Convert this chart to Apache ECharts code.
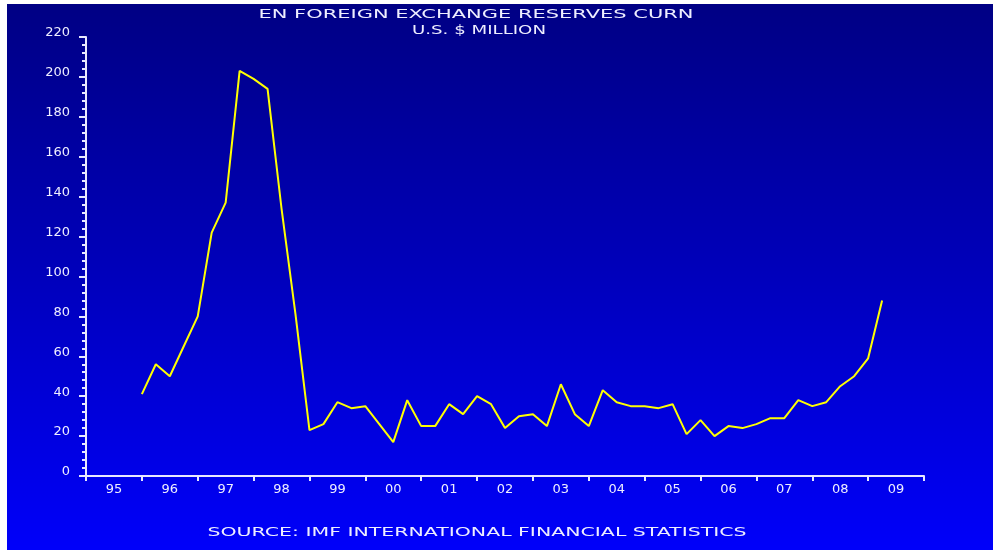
<!DOCTYPE html>
<html>
<head>
<meta charset="utf-8">
<script src="https://cdn.jsdelivr.net/npm/echarts@6/dist/echarts.min.js"></script>
<style>
	html, body { margin: 0; padding: 0; background: #ffffff; }
	#wrap { position: relative; width: 993px; height: 550px; overflow: hidden; }
	#chart { position: absolute; left: 7px; top: 4px; width: 986px; height: 546px; }
</style>
</head>
<body>
<div id="wrap"><div id="chart"></div></div>
<script>
// quarterly reserves, 1995Q4 .. 2009Q1 (US$ million)
const firstYear = 1995
const lastYear = 2010
const startOffset = 4 // first point sits at the end of 1995Q4
const reserves = [
	41, 56, 50, 65, 80, 122, 137, 203, 199, 194,
	134, 81, 23, 26, 37, 34, 35, 26, 17, 38,
	25, 25, 36, 31, 40, 36, 24, 30, 31, 25,
	46, 31, 25, 43, 37, 35, 35, 34, 36, 21,
	28, 20, 25, 24, 26, 29, 29, 38, 35, 37,
	45, 50, 59, 88
]
const yearLabels = ['95', '96', '97', '98', '99', '00', '01', '02', '03', '04', '05', '06', '07', '08', '09']
const yTicks = [0, 20, 40, 60, 80, 100, 120, 140, 160, 180, 200, 220]

const titleText = 'EN FOREIGN EXCHANGE RESERVES CURN'
const subText = 'U.S. $ MILLION'
const sourceText = 'SOURCE: IMF INTERNATIONAL FINANCIAL STATISTICS'

// quarter boundaries along the x axis
const quarters = []
for (let y = firstYear; y < lastYear; y++) {
	for (let q = 0; q < 4; q++) quarters.push(y + 'Q' + (q + 1))
}
quarters.push(lastYear + 'Q1')

const seriesData = quarters.map((c, i) => {
	const k = i - startOffset
	return k >= 0 && k < reserves.length ? reserves[k] : null
})

const textFont = '13px "DejaVu Sans"'
const measure = document.createElement('canvas').getContext('2d')
measure.font = textFont
function stretch(text, width) {
	return width / measure.measureText(text).width
}

function wideText(text, x, y, width) {
	return {
		type: 'text',
		x: x,
		y: y,
		scaleX: stretch(text, width),
		style: {
			text: text,
			fill: '#eeeeff',
			font: textFont,
			textAlign: 'center',
			textVerticalAlign: 'middle'
		}
	}
}

let myChart = echarts.init(document.getElementById('chart'))
let option = {
	animation: false,
	backgroundColor: new echarts.graphic.LinearGradient(0, 0, 0, 1, [
		{ offset: 0, color: '#000084' },
		{ offset: 0.5, color: '#0000bc' },
		{ offset: 1, color: '#0000fa' }
	]),
	graphic: [
		wideText(titleText, 469, 11, 435),
		wideText(subText, 472, 27, 134),
		wideText(sourceText, 470, 529, 539)
	],
	grid: {
		left: 79,
		right: 69,
		top: 33,
		bottom: 74
	},
	xAxis: {
		type: 'category',
		data: quarters,
		boundaryGap: false,
		axisLine: { lineStyle: { color: '#e8e8ff', width: 2 } },
		axisTick: {
			interval: (i) => i % 4 === 0,
			length: 5,
			lineStyle: { color: '#e8e8ff', width: 2 }
		},
		axisLabel: {
			interval: (i) => i % 4 === 2,
			formatter: (v, i) => yearLabels[(i - 2) / 4] || '',
			color: '#eeeeff',
			fontFamily: 'DejaVu Sans',
			fontSize: 13,
			margin: 7
		},
		splitLine: { show: false }
	},
	yAxis: {
		type: 'value',
		min: yTicks[0],
		max: yTicks[yTicks.length - 1],
		interval: 20,
		axisLine: { show: true, lineStyle: { color: '#e8e8ff', width: 2 } },
		axisTick: { show: true, length: 7, lineStyle: { color: '#e8e8ff', width: 2 } },
		minorTick: { show: true, splitNumber: 5, length: 4, lineStyle: { color: '#e8e8ff', width: 2 } },
		axisLabel: {
			color: '#eeeeff',
			fontFamily: 'DejaVu Sans',
			fontSize: 13,
			margin: 16,
			verticalAlign: 'bottom',
			lineHeight: 8
		},
		splitLine: { show: false }
	},
	series: [{
		type: 'line',
		data: seriesData,
		showSymbol: false,
		symbol: 'none',
		lineStyle: { color: '#ffff00', width: 2 },
		connectNulls: false
	}]
}
myChart.setOption(option)
</script>
</body>
</html>
